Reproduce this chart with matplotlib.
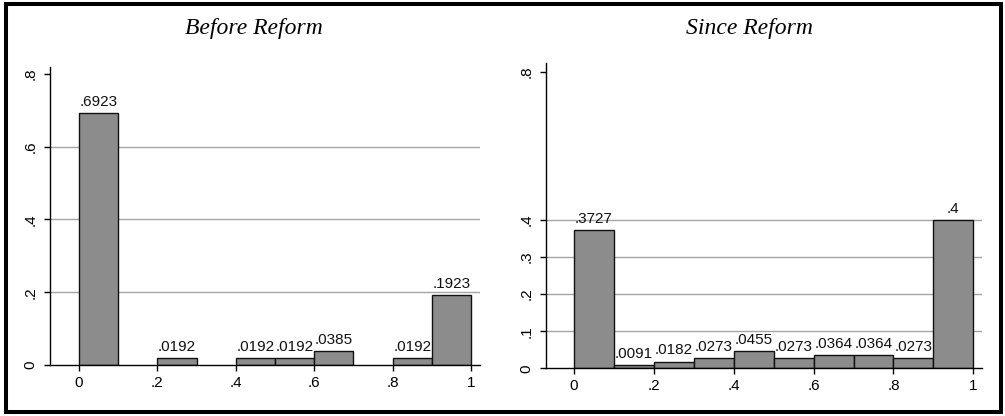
import matplotlib
matplotlib.use("Agg")
import matplotlib.pyplot as plt
from matplotlib.patches import Rectangle
from matplotlib import font_manager

# ---- data ----
before_left = [0.0, 0.2, 0.4, 0.5, 0.6, 0.8, 0.9]
before_share = [0.6923, 0.0192, 0.0192, 0.0192, 0.0385, 0.0192, 0.1923]
since_left = [0.0, 0.1, 0.2, 0.3, 0.4, 0.5, 0.6, 0.7, 0.8, 0.9]
since_share = [0.3727, 0.0091, 0.0182, 0.0273, 0.0455, 0.0273, 0.0364, 0.0364, 0.0273, 0.4]
bin_width = 0.1
x_ticks = [0, 0.2, 0.4, 0.6, 0.8, 1]
x_ticklabels = ["0", ".2", ".4", ".6", ".8", "1"]
before_yticks = [0, 0.2, 0.4, 0.6, 0.8]
before_yticklabels = ["0", ".2", ".4", ".6", ".8"]
before_grid = [0.2, 0.4, 0.6]
since_yticks = [0, 0.1, 0.2, 0.3, 0.4, 0.8]
since_yticklabels = ["0", ".1", ".2", ".3", ".4", ".8"]
since_grid = [0.1, 0.2, 0.3, 0.4]
titles = ["Before Reform", "Since Reform"]

names = {f.name for f in font_manager.fontManager.ttflist}
num_font = "Liberation Sans Narrow" if "Liberation Sans Narrow" in names else "Liberation Sans"
title_font = "Liberation Serif"

W, H = 1005, 416
fig = plt.figure(figsize=(W / 100, H / 100), dpi=100)
fig.patch.set_facecolor("white")

def px_axes(x0, x1, ytop, ybot):
    return [x0 / W, (H - ybot) / H, (x1 - x0) / W, (ybot - ytop) / H]

panels = [
    dict(rect=px_axes(50, 480, 67, 365), xlim=(-0.074, 1.023), ylim=(0, 0.819),
         left=before_left, vals=before_share, yt=before_yticks, ytl=before_yticklabels,
         grid=before_grid, title=titles[0], tx=254),
    dict(rect=px_axes(545.7, 981.7, 62.7, 368.3), xlim=(-0.0709, 1.021), ylim=(0, 0.824),
         left=since_left, vals=since_share, yt=since_yticks, ytl=since_yticklabels,
         grid=since_grid, title=titles[1], tx=749),
]

for p in panels:
    ax = fig.add_axes(p["rect"])
    ax.set_xlim(*p["xlim"])
    ax.set_ylim(*p["ylim"])
    for g in p["grid"]:
        ax.axhline(g, color="#a4a4a4", lw=1.0, zorder=1)
    bars = ax.bar(p["left"], p["vals"], width=bin_width, align="edge",
                  color="#8c8c8c", edgecolor="#111111", linewidth=1.0, zorder=2)
    labels = [f"{v:.4g}".lstrip("0") for v in p["vals"]]
    ax.bar_label(bars, labels=labels, padding=3, fontsize=11,
                 family=num_font, color="#111111")
    for s in ["top", "right"]:
        ax.spines[s].set_visible(False)
    for s in ["left", "bottom"]:
        ax.spines[s].set_linewidth(1.0)
    ax.set_xticks(x_ticks)
    ax.set_xticklabels(x_ticklabels, fontsize=11, family=num_font)
    ax.set_yticks(p["yt"])
    ax.set_yticklabels(p["ytl"], fontsize=11, family=num_font, rotation=90, va="center")
    ax.tick_params(axis="both", length=4, width=1.0, color="black")
    ax.tick_params(axis="x", pad=4)
    ax.tick_params(axis="y", pad=5)
    fig.text(p["tx"] / W, (H - 34) / H, p["title"], ha="center", va="baseline",
             fontsize=17, family=title_font, style="italic")

fig.patches.append(Rectangle((5.5 / W, 4 / H), 995 / W, 408 / H, transform=fig.transFigure,
                             fill=False, edgecolor="black", linewidth=2.9))

fig.savefig("out.png", dpi=100)
